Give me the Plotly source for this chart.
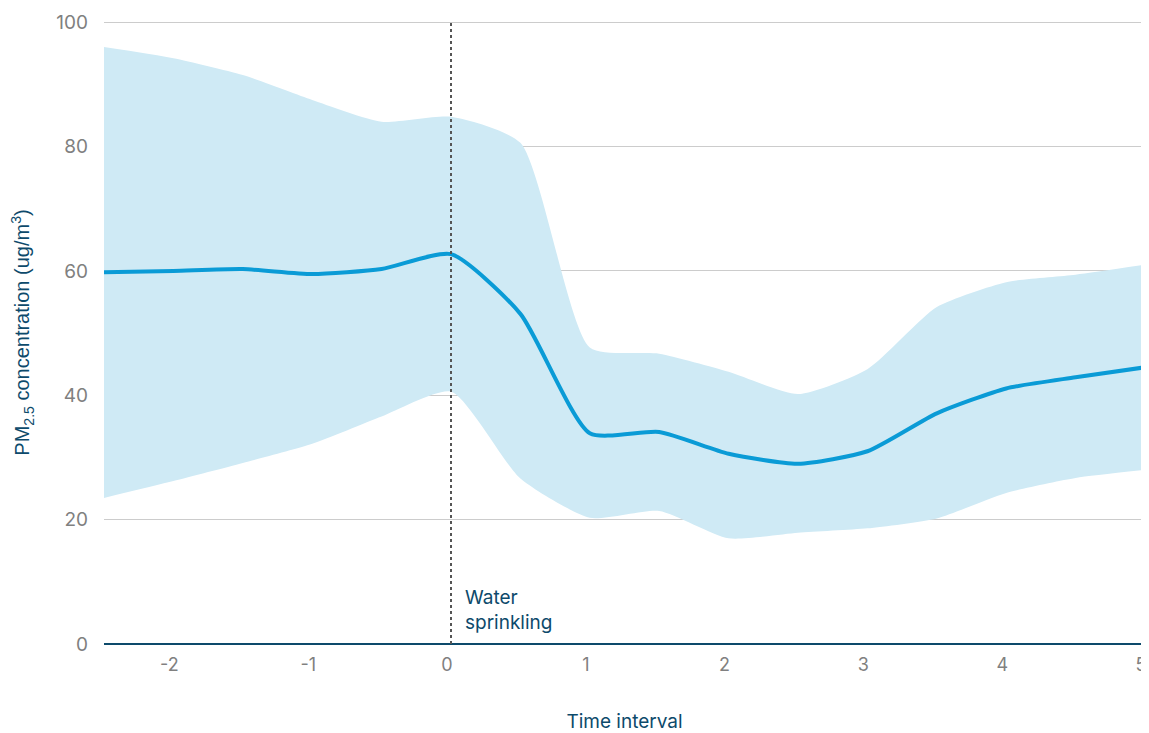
import plotly.graph_objects as go

x_vals = [-2.5, -2, -1.5, -1, -0.5, 0, 0.5, 1, 1.5, 2, 2.5, 3, 3.5, 4, 4.5, 5]
mean_pm = [59.8, 60.0, 60.3, 59.5, 60.3, 62.7, 53.1, 33.9, 34.1, 30.6, 29.0, 31.0, 37.1, 41.1, 42.9, 44.5]
upper_pm = [96.0, 94.2, 91.5, 87.5, 84.0, 84.8, 80.6, 47.7, 46.7, 43.8, 40.2, 44.2, 54.2, 58.2, 59.4, 61.0]
lower_pm = [23.5, 26.2, 29.1, 32.2, 36.6, 40.6, 26.6, 20.3, 21.4, 17.0, 17.9, 18.6, 20.2, 24.3, 26.7, 28.0]
x_ticks = [-2, -1, 0, 1, 2, 3, 4, 5]
x_tick_text = ["-2", "-1", "0", "1", "2", "3", "4", "5"]
y_ticks = [0, 20, 40, 60, 80, 100]
event_x = 0
event_label = "Water<br>sprinkling"

band_color = "#cfeaf5"
line_color = "#0a9bd6"
navy = "#0d4a6b"
gray_text = "#808080"
font_family = "Inter, Lato, 'Noto Sans', sans-serif"
title_font = "'Liberation Sans', Arial, sans-serif"
smooth = 0.6

fig = go.Figure()
fig.add_trace(go.Scatter(x=x_vals, y=lower_pm, mode="lines",
                         line=dict(width=0, shape="spline", smoothing=smooth, color=band_color),
                         hoverinfo="skip", showlegend=False))
fig.add_trace(go.Scatter(x=x_vals, y=upper_pm, mode="lines", fill="tonexty", fillcolor=band_color,
                         line=dict(width=0, shape="spline", smoothing=smooth, color=band_color),
                         hoverinfo="skip", showlegend=False))
fig.add_trace(go.Scatter(x=x_vals, y=mean_pm, mode="lines",
                         line=dict(width=4, shape="spline", smoothing=smooth, color=line_color),
                         showlegend=False))

fig.add_shape(type="line", x0=event_x, x1=event_x, y0=0, y1=100, xref="x", yref="y",
              line=dict(color="#555555", width=2, dash="dot"), layer="above")
fig.add_annotation(x=event_x, y=0, xref="x", yref="y", text=event_label, showarrow=False,
                   xanchor="left", yanchor="bottom", xshift=12, yshift=8, align="left",
                   font=dict(family=font_family, size=19, color=navy))

fig.update_layout(
    width=1141, height=725,
    margin=dict(l=95, r=3, t=10, b=89),
    plot_bgcolor="white", paper_bgcolor="white",
    font=dict(family=font_family),
    xaxis=dict(range=[-2.5, 5], tickvals=x_ticks, ticktext=x_tick_text, showgrid=False, zeroline=False,
               showline=False, ticks="", tickfont=dict(size=18, color=gray_text),
               ticklabelstandoff=8, ticklabelshift=-4, ticklabeloverflow="allow",
               title=dict(text="Time interval", font=dict(size=19, color=navy), standoff=40)),
    yaxis=dict(range=[0, 100.2], tickvals=y_ticks, showgrid=True, gridcolor="#cccccc", gridwidth=1,
               zeroline=True, zerolinecolor=navy, zerolinewidth=2, showline=False, ticks="",
               tickfont=dict(size=19, color=gray_text), ticklabelstandoff=15,
               ticklabeloverflow="allow",
               title=dict(text="PM<sub>2.5</sub> concentration (ug/m<sup>3</sup>)",
                          font=dict(family=title_font, size=20, color=navy), standoff=31)),
)

fig.write_html("out.html")
